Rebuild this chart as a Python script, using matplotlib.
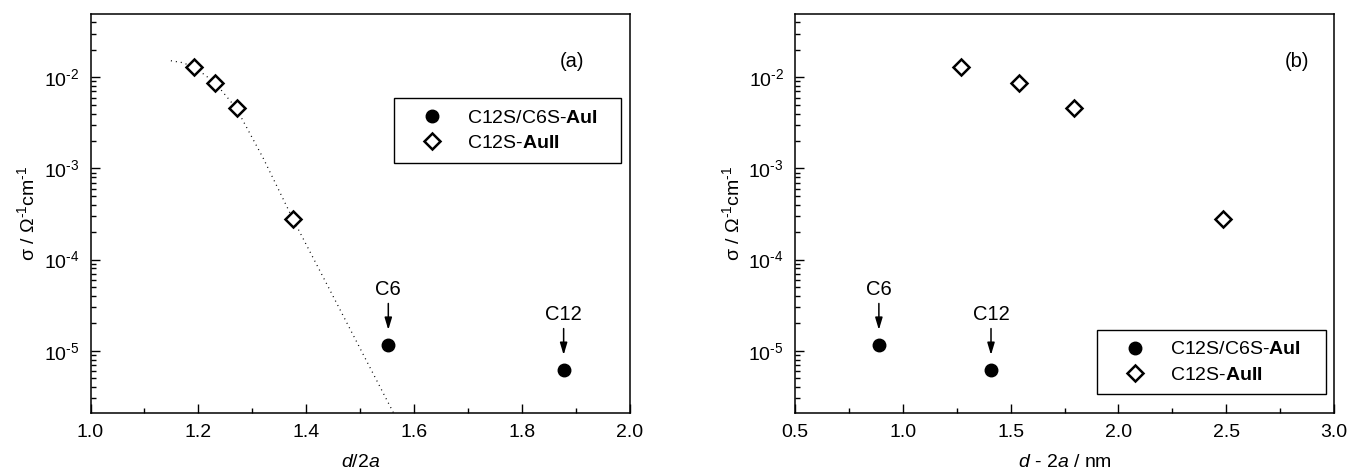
import math

import matplotlib
matplotlib.use("Agg")
import matplotlib.pyplot as plt
from matplotlib.ticker import LogLocator, MultipleLocator, NullFormatter

plt.rcParams["font.family"] = ["Liberation Sans", "DejaVu Sans"]
plt.rcParams["mathtext.fontset"] = "custom"
plt.rcParams["mathtext.rm"] = "Liberation Sans"
plt.rcParams["mathtext.it"] = "Liberation Sans:italic"
plt.rcParams["mathtext.bf"] = "Liberation Sans:bold"

# data
ratio_aui = [1.552, 1.877]            # d/2a, C12S/C6S-AuI
ratio_auii = [1.192, 1.231, 1.272, 1.376]
gap_aui = [0.889, 1.409]              # d - 2a / nm
gap_auii = [1.272, 1.537, 1.794, 2.486]
sigma_aui = [1.15e-5, 6.1e-6]
sigma_auii = [1.29e-2, 8.6e-3, 4.64e-3, 2.76e-4]
aui_tags = ["C6", "C12"]

fit_x = [1.149, 1.170, 1.192, 1.231, 1.270, 1.320, 1.375, 1.440, 1.500, 1.565]
fit_y = [1.52e-2, 1.45e-2, 1.30e-2, 8.7e-3, 4.6e-3, 1.3e-3, 2.8e-4, 5.1e-5, 1.05e-5, 1.9e-6]

HY = "\u2010"  # plain hyphen for superscripts, like the original
LBL_AUI = "C12S/C6S-$\\mathbf{AuI}$"
LBL_AUII = "C12S-$\\mathbf{AuII}$"
YLABEL = ("\u03c3 / \u03a9$^{\\mathregular{%s1}}$cm$^{\\mathregular{%s1}}$" % (HY, HY))

fig = plt.figure(figsize=(13.47, 4.75), dpi=100)
ax_a = fig.add_axes([0.0672, 0.1305, 0.4005, 0.840])
ax_b = fig.add_axes([0.5902, 0.1305, 0.4002, 0.840])


def dec_fmt(v, pos):
    e = round(math.log10(v))
    sign = HY if e < 0 else ""
    return "10$^{\\mathregular{%s%d}}$" % (sign, abs(e))


def style(ax, xlim, major, minor, xlabel):
    ax.set_yscale("log")
    ax.set_xlim(*xlim)
    ax.set_ylim(2.07e-6, 4.95e-2)
    ax.xaxis.set_major_locator(MultipleLocator(major))
    ax.xaxis.set_minor_locator(MultipleLocator(minor))
    ax.yaxis.set_major_locator(LogLocator(base=10, numticks=20))
    ax.yaxis.set_minor_locator(LogLocator(base=10, subs=range(2, 10), numticks=20))
    ax.yaxis.set_major_formatter(plt.FuncFormatter(dec_fmt))
    ax.yaxis.set_minor_formatter(NullFormatter())
    ax.xaxis.set_major_formatter(plt.FuncFormatter(lambda v, p: f"{v:.1f}"))
    ax.tick_params(which="both", direction="in", top=False, right=False,
                   labelsize=14, width=1.0, pad=8)
    ax.tick_params(which="major", length=6.5)
    ax.tick_params(which="minor", length=3.6)
    for sp in ax.spines.values():
        sp.set_linewidth(1.1)
    ax.set_xlabel(xlabel, fontsize=14, labelpad=9)
    ax.set_ylabel(YLABEL, fontsize=14, labelpad=4)


def draw(ax, xs_aui, xs_auii, legend_box, tag):
    ax.plot(xs_aui, sigma_aui, "o", color="black", ms=9, ls="none", label=LBL_AUI)
    ax.plot(xs_auii, sigma_auii, "D", mfc="white", mec="black", mew=1.8, ms=8,
            ls="none", label=LBL_AUII)
    for x, y, t in zip(xs_aui, sigma_aui, aui_tags):
        ax.annotate(t, xy=(x, y), xytext=(0, 33), textcoords="offset points",
                    ha="center", va="bottom", fontsize=14.5,
                    arrowprops=dict(arrowstyle="-|>,head_length=0.5,head_width=0.15",
                                    color="black", lw=1.1, shrinkA=1, shrinkB=11))
    leg = ax.legend(loc="upper left", bbox_to_anchor=legend_box, mode="expand",
                    borderaxespad=0, fontsize=14, frameon=True, fancybox=False,
                    edgecolor="black", framealpha=1, borderpad=0.55, labelspacing=0.4,
                    handlelength=2.8, handletextpad=0.4)
    leg.get_frame().set_linewidth(1.0)
    ax.text(tag[1], tag[2], tag[0], transform=ax.transAxes, fontsize=14.5,
            ha="center", va="center")


style(ax_a, (1.0, 2.0), 0.2, 0.1, "$d$/2$a$")
ax_a.plot(fit_x, fit_y, color="black", lw=0.9, dashes=(0.8, 3.2))
draw(ax_a, ratio_aui, ratio_auii, (0.5626, 0.789, 0.4214, 0.0), ("(a)", 0.892, 0.88))

style(ax_b, (0.5, 3.0), 0.5, 0.25, "$d$ - 2$a$ / nm")
draw(ax_b, gap_aui, gap_auii, (0.560, 0.208, 0.425, 0.0), ("(b)", 0.931, 0.88))

fig.savefig("out.png", dpi=100)
